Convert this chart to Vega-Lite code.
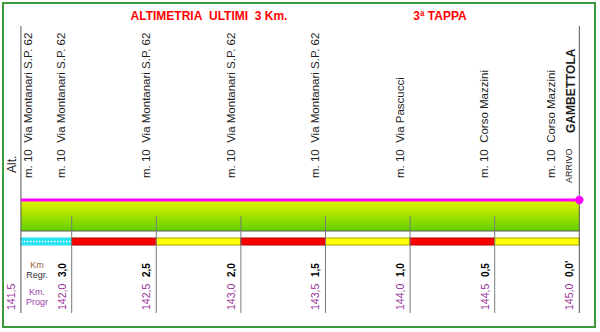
{
  "$schema": "https://vega.github.io/schema/vega-lite/v6.json",
  "width": 592,
  "height": 324,
  "autosize": {"type": "none"},
  "padding": {"left": 3, "top": 3, "right": 5, "bottom": 5},
  "background": "white",
  "config": {
    "view": {"stroke": "#3c9a3c", "strokeWidth": 2},
    "axis": {"disable": true},
    "legend": {"disable": true},
    "text": {"font": "Liberation Sans"}
  },
  "datasets": {
    "profilo": [
      {"km": 141.7, "alt": 10},
      {"km": 145.0, "alt": 10}
    ],
    "tratti": [
      {"da": 141.7, "a": 142.0, "tipo": "ciano"},
      {"da": 142.0, "a": 142.5, "tipo": "rosso"},
      {"da": 142.5, "a": 143.0, "tipo": "giallo"},
      {"da": 143.0, "a": 143.5, "tipo": "rosso"},
      {"da": 143.5, "a": 144.0, "tipo": "giallo"},
      {"da": 144.0, "a": 144.5, "tipo": "rosso"},
      {"da": 144.5, "a": 145.0, "tipo": "giallo"}
    ],
    "km": [
      {"km": 141.7, "progr": "141,5"},
      {"km": 142.0, "regr": "3,0", "progr": "142,0"},
      {"km": 142.5, "regr": "2,5", "progr": "142,5"},
      {"km": 143.0, "regr": "2,0", "progr": "143,0"},
      {"km": 143.5, "regr": "1,5", "progr": "143,5"},
      {"km": 144.0, "regr": "1,0", "progr": "144,0"},
      {"km": 144.5, "regr": "0,5", "progr": "144,5"},
      {"km": 145.0, "regr": "0,0'", "progr": "145,0"}
    ],
    "vie": [
      {"km": 141.75, "testo": "m. 10\u00a0\u00a0Via Montanari S.P. 62"},
      {"km": 141.945, "testo": "m. 10\u00a0\u00a0Via Montanari S.P. 62"},
      {"km": 142.445, "testo": "m. 10\u00a0\u00a0Via Montanari S.P. 62"},
      {"km": 142.945, "testo": "m. 10\u00a0\u00a0Via Montanari S.P. 62"},
      {"km": 143.445, "testo": "m. 10\u00a0\u00a0Via Montanari S.P. 62"},
      {"km": 143.945, "testo": "m. 10\u00a0\u00a0Via Pascucci"},
      {"km": 144.445, "testo": "m. 10\u00a0\u00a0Corso Mazzini"},
      {"km": 144.84, "testo": "m. 10\u00a0\u00a0Corso Mazzini"}
    ],
    "uno": [{}]
  },
  "layer": [
    {
      "data": {"name": "profilo"},
      "mark": {
        "type": "area",
        "fill": {
          "gradient": "linear",
          "x1": 0, "y1": 0, "x2": 0, "y2": 1,
          "stops": [
            {"offset": 0, "color": "#e4f400"},
            {"offset": 1, "color": "#62d000"}
          ]
        }
      },
      "encoding": {
        "x": {"field": "km", "type": "quantitative", "axis": null,
              "scale": {"domain": [141.594, 145.0928], "nice": false, "zero": false}},
        "y": {"field": "alt", "type": "quantitative", "axis": null,
              "scale": {"domain": [-117, 207], "nice": false, "zero": false}},
        "y2": {"datum": -21}
      }
    },
    {
      "data": {"name": "uno"},
      "mark": {"type": "rule", "color": "#5a5a5a", "strokeWidth": 1},
      "encoding": {
        "x": {"datum": 141.7, "type": "quantitative"},
        "x2": {"datum": 145.0},
        "y": {"datum": -21, "type": "quantitative"}
      }
    },
    {
      "data": {"name": "tratti"},
      "mark": {"type": "rect", "strokeWidth": 1},
      "encoding": {
        "x": {"field": "da", "type": "quantitative"},
        "x2": {"field": "a"},
        "y": {"datum": -28, "type": "quantitative"},
        "y2": {"datum": -35},
        "fill": {"field": "tipo", "type": "nominal", "legend": null,
                 "scale": {"domain": ["ciano", "rosso", "giallo"], "range": ["#26e2f0", "#ff0000", "#ffff00"]}},
        "stroke": {"field": "tipo", "type": "nominal", "legend": null,
                   "scale": {"domain": ["ciano", "rosso", "giallo"], "range": ["#26e2f0", "#b00000", "#a8a800"]}}
      }
    },
    {
      "data": {"name": "tratti"},
      "transform": [{"filter": "datum.tipo === 'ciano'"}],
      "mark": {"type": "rule", "color": "white", "strokeWidth": 1.5, "strokeDash": [1.5, 1.5]},
      "encoding": {
        "x": {"field": "da", "type": "quantitative"},
        "x2": {"field": "a"},
        "y": {"datum": -31.5, "type": "quantitative"}
      }
    },
    {
      "data": {"name": "km"},
      "transform": [{"filter": "datum.km > 141.75 && datum.km < 144.95"}],
      "mark": {"type": "rule", "color": "#7a7a7a", "strokeWidth": 1},
      "encoding": {
        "x": {"field": "km", "type": "quantitative"},
        "y": {"datum": -6, "type": "quantitative"},
        "y2": {"datum": -103}
      }
    },
    {
      "data": {"name": "km"},
      "transform": [{"filter": "datum.km < 141.75 || datum.km > 144.95"}],
      "mark": {"type": "rule", "color": "#555555", "strokeWidth": 1},
      "encoding": {
        "x": {"field": "km", "type": "quantitative"},
        "y": {"datum": 184, "type": "quantitative"},
        "y2": {"datum": -103}
      }
    },
    {
      "data": {"name": "profilo"},
      "mark": {"type": "line", "color": "#ff00ff", "strokeWidth": 3},
      "encoding": {
        "x": {"field": "km", "type": "quantitative"},
        "y": {"field": "alt", "type": "quantitative"}
      }
    },
    {
      "data": {"name": "profilo"},
      "transform": [{"filter": "datum.km === 145"}],
      "mark": {"type": "point", "filled": true, "size": 70, "color": "#ff00ff", "opacity": 1},
      "encoding": {
        "x": {"field": "km", "type": "quantitative"},
        "y": {"field": "alt", "type": "quantitative"}
      }
    },
    {
      "data": {"name": "vie"},
      "mark": {"type": "text", "angle": 270, "align": "left", "baseline": "middle", "fontSize": 11.5, "color": "#1e1e1e"},
      "encoding": {
        "x": {"field": "km", "type": "quantitative"},
        "y": {"datum": 32, "type": "quantitative"},
        "text": {"field": "testo", "type": "nominal"}
      }
    },
    {
      "data": {"name": "uno"},
      "mark": {"type": "text", "angle": 270, "align": "left", "baseline": "middle", "fontSize": 9, "color": "#1e1e1e", "text": "ARRIVO"},
      "encoding": {
        "x": {"datum": 144.94, "type": "quantitative"},
        "y": {"datum": 27, "type": "quantitative"}
      }
    },
    {
      "data": {"name": "uno"},
      "mark": {"type": "text", "angle": 270, "align": "left", "baseline": "middle", "fontSize": 12, "fontWeight": "bold", "color": "#1e1e1e", "text": "GAMBETTOLA"},
      "encoding": {
        "x": {"datum": 144.95, "type": "quantitative"},
        "y": {"datum": 77, "type": "quantitative"}
      }
    },
    {
      "data": {"name": "km"},
      "transform": [{"filter": "isValid(datum.regr)"}],
      "mark": {"type": "text", "angle": 270, "align": "left", "baseline": "middle", "fontSize": 10, "fontWeight": "bold", "color": "#000000", "dy": -9},
      "encoding": {
        "x": {"field": "km", "type": "quantitative"},
        "y": {"datum": -67, "type": "quantitative"},
        "text": {"field": "regr", "type": "nominal"}
      }
    },
    {
      "data": {"name": "km"},
      "mark": {"type": "text", "angle": 270, "align": "left", "baseline": "middle", "fontSize": 10.5, "color": "#993399", "dy": -9},
      "encoding": {
        "x": {"field": "km", "type": "quantitative"},
        "y": {"datum": -100, "type": "quantitative"},
        "text": {"field": "progr", "type": "nominal"}
      }
    },
    {
      "data": {"name": "uno"},
      "mark": {"type": "text", "angle": 270, "align": "left", "baseline": "middle", "fontSize": 12, "color": "#1e1e1e", "text": "Alt."},
      "encoding": {
        "x": {"datum": 141.647, "type": "quantitative"},
        "y": {"datum": 37, "type": "quantitative"}
      }
    },
    {
      "data": {"name": "uno"},
      "mark": {"type": "text", "align": "center", "baseline": "middle", "fontSize": 12, "fontWeight": "bold", "color": "#ff0000", "text": "ALTIMETRIA\u00a0\u00a0ULTIMI\u00a0\u00a03 Km."},
      "encoding": {
        "x": {"datum": 142.8115, "type": "quantitative"},
        "y": {"datum": 194, "type": "quantitative"}
      }
    },
    {
      "data": {"name": "uno"},
      "mark": {"type": "text", "align": "center", "baseline": "middle", "fontSize": 12, "fontWeight": "bold", "color": "#ff0000", "text": "3ª TAPPA"},
      "encoding": {
        "x": {"datum": 144.177, "type": "quantitative"},
        "y": {"datum": 194, "type": "quantitative"}
      }
    },
    {
      "data": {"name": "uno"},
      "mark": {"type": "text", "align": "center", "baseline": "middle", "fontSize": 9, "color": "#9a5a30", "text": "Km"},
      "encoding": {
        "x": {"datum": 141.795, "type": "quantitative"},
        "y": {"datum": -55, "type": "quantitative"}
      }
    },
    {
      "data": {"name": "uno"},
      "mark": {"type": "text", "align": "center", "baseline": "middle", "fontSize": 9, "color": "#333333", "text": "Regr."},
      "encoding": {
        "x": {"datum": 141.795, "type": "quantitative"},
        "y": {"datum": -65, "type": "quantitative"}
      }
    },
    {
      "data": {"name": "uno"},
      "mark": {"type": "text", "align": "center", "baseline": "middle", "fontSize": 9, "color": "#a040b0", "text": "Km."},
      "encoding": {
        "x": {"datum": 141.795, "type": "quantitative"},
        "y": {"datum": -82, "type": "quantitative"}
      }
    },
    {
      "data": {"name": "uno"},
      "mark": {"type": "text", "align": "center", "baseline": "middle", "fontSize": 9, "color": "#a040b0", "text": "Progr"},
      "encoding": {
        "x": {"datum": 141.795, "type": "quantitative"},
        "y": {"datum": -92, "type": "quantitative"}
      }
    }
  ]
}
